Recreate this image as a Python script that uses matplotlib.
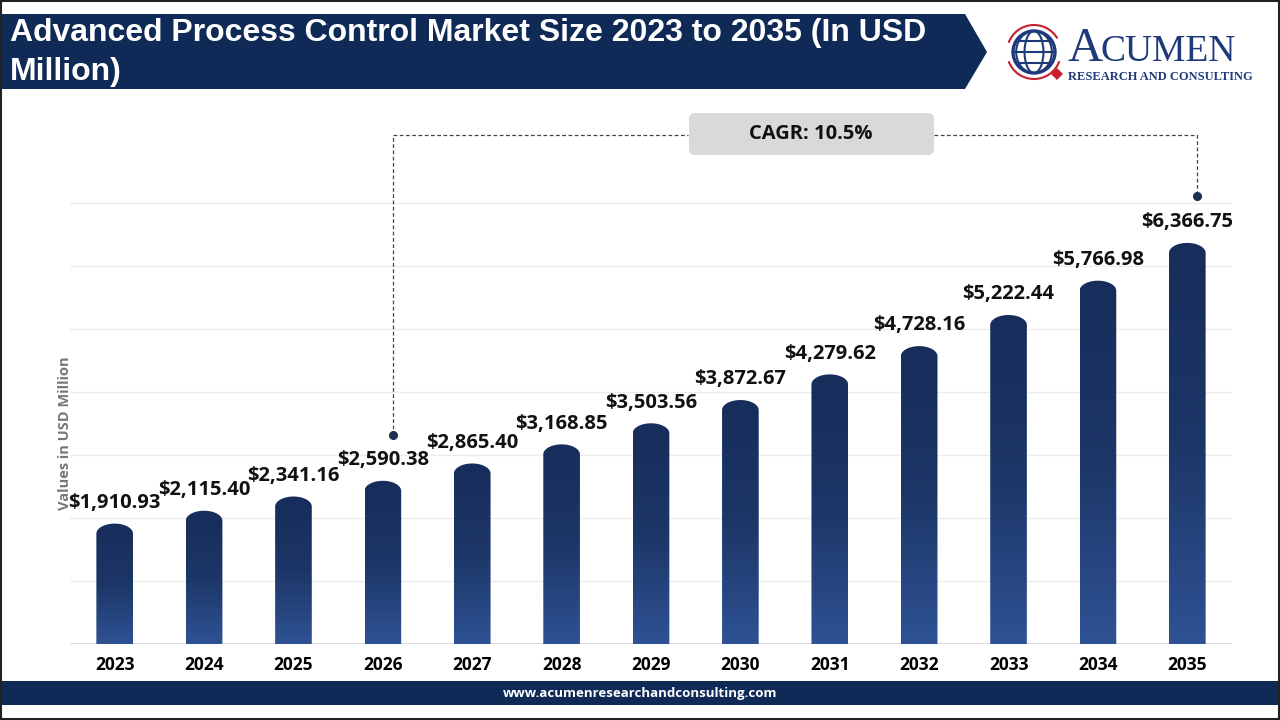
import matplotlib
matplotlib.use("Agg")
import matplotlib.pyplot as plt
import numpy as np
from matplotlib.path import Path
from matplotlib.patches import PathPatch, Polygon, FancyBboxPatch, Rectangle, Circle, Ellipse, Arc
from matplotlib.colors import LinearSegmentedColormap

years = ["2023", "2024", "2025", "2026", "2027", "2028", "2029", "2030", "2031", "2032", "2033", "2034", "2035"]
values = [1910.93, 2115.40, 2341.16, 2590.38, 2865.40, 3168.85, 3503.56, 3872.67, 4279.62, 4728.16, 5222.44, 5766.98, 6366.75]
value_labels = ["$1,910.93", "$2,115.40", "$2,341.16", "$2,590.38", "$2,865.40", "$3,168.85", "$3,503.56",
                "$3,872.67", "$4,279.62", "$4,728.16", "$5,222.44", "$5,766.98", "$6,366.75"]
grid_ticks = [0, 1000, 2000, 3000, 4000, 5000, 6000, 7000]
title_lines = ["Advanced Process Control Market Size 2023 to 2035 (In USD", "Million)"]
cagr_text = "CAGR: 10.5%"
y_label = "Values in USD Million"
footer_url = "www.acumenresearchandconsulting.com"

W, H = 1280, 720
fig = plt.figure(figsize=(12.8, 7.2), dpi=100)
fig.patch.set_facecolor("white")

def fx(px):
    return px / W

def fy(py):
    return 1 - py / H

NAVY = "#0f2a57"
LOGO = "#1f3a7a"

# ---- Background / header ----
bg = fig.add_axes([0, 0, 1, 1], zorder=0)
bg.set_xlim(0, W)
bg.set_ylim(H, 0)
bg.axis("off")
bg.add_patch(Polygon([(0, 14), (965, 14), (987, 52), (965, 89), (0, 89)], closed=True,
                     facecolor=NAVY, edgecolor="none"))
bg.text(10, 33, title_lines[0], color="white",
        fontsize=23, fontweight="bold", family="Liberation Sans", va="center", ha="left")
bg.text(10, 72, title_lines[1], color="white",
        fontsize=23, fontweight="bold", family="Liberation Sans", va="center", ha="left")

# ---- Footer ----
bg.add_patch(Rectangle((0, 681), W, 24, facecolor=NAVY, edgecolor="none"))
bg.text(640, 693, footer_url, color="white", fontsize=9.5, fontweight="bold",
        family="Open Sans", ha="center", va="center")
bg.add_patch(Rectangle((0.5, 0.5), W - 1.5, H - 1.5, facecolor="none", edgecolor="#222222", lw=1.5))

# ---- Logo ----
gx, gy, gr = 1034, 52, 21
bg.add_patch(Circle((gx, gy), gr, facecolor="white", edgecolor=LOGO, lw=2.4))
for w in [0.45, 0.85]:
    bg.add_patch(Ellipse((gx, gy), 2 * gr * w, 2 * gr, facecolor="none", edgecolor=LOGO, lw=1.5))
for dy in [-11, 0, 11]:
    half = np.sqrt(max(gr ** 2 - dy ** 2, 0))
    bg.plot([gx - half, gx + half], [gy + dy, gy + dy], color=LOGO, lw=1.5)
bg.add_patch(Arc((gx, gy), 2 * gr + 12, 2 * gr + 12, theta1=200, theta2=330, color="#c8202f", lw=1.5))
bg.add_patch(Arc((gx, gy), 2 * gr + 12, 2 * gr + 12, theta1=20, theta2=160, color="#c8202f", lw=1.5))
bg.add_patch(Polygon([(1051, 74), (1057, 68), (1063, 74), (1057, 80)], closed=True,
                     facecolor="#c8202f", edgecolor="none"))
bg.text(1068, 61, "A", color=LOGO, fontsize=35, family="Liberation Serif", va="baseline", ha="left")
bg.text(1101, 61, "CUMEN", color=LOGO, fontsize=27, family="Liberation Serif", va="baseline", ha="left")
bg.text(1068, 80, "RESEARCH AND CONSULTING", color=LOGO, fontsize=9.0, fontweight="bold",
        family="Liberation Serif", va="baseline", ha="left")

# ---- Main axes ----
base_px, top_px = 644, 100
left_px, right_px = 70, 1232
scale = 0.0630  # px per unit
ymax = (base_px - top_px) / scale
ax = fig.add_axes([fx(left_px), fy(base_px), fx(right_px - left_px), (base_px - top_px) / H], zorder=1)
ax.set_facecolor("none")
for s in ax.spines.values():
    s.set_visible(False)
ax.set_yticks(grid_ticks)
ax.set_yticklabels([])
ax.tick_params(axis="y", length=0)
ax.set_xticks(range(len(years)))
ax.set_xticklabels(years, fontsize=12.5, fontweight="bold", family="Open Sans")
ax.tick_params(axis="x", length=0, pad=9)
for t in grid_ticks[1:]:
    ax.axhline(t, color="#ececec", lw=1, zorder=0)
ax.axhline(0, color="#d4d4d4", lw=1.2, zorder=0)

bar_w = 0.41
cap_h = 160
grad = np.linspace(0, 1, 256).reshape(-1, 1)
cmap = LinearSegmentedColormap.from_list("bar", ["#2f5294", "#1c3667", "#172d5b"])
bars = ax.bar(range(len(years)), values, width=bar_w, color="none", edgecolor="none")
for i, (b, v) in enumerate(zip(bars, values)):
    x0 = b.get_x()
    x1 = x0 + b.get_width()
    xc = (x0 + x1) / 2
    hw = b.get_width() / 2
    th = np.linspace(0, np.pi, 40)
    top_pts = [(xc + hw * np.cos(t), v - cap_h + cap_h * np.sin(t)) for t in th]
    verts = [(x1, 0)] + top_pts + [(x0, 0), (x1, 0)]
    codes = [Path.MOVETO] + [Path.LINETO] * (len(verts) - 2) + [Path.CLOSEPOLY]
    patch = PathPatch(Path(verts, codes), facecolor="none", edgecolor="none", transform=ax.transData)
    ax.add_patch(patch)
    im = ax.imshow(grad, extent=[x0, x1, 0, v], origin="lower", aspect="auto", cmap=cmap,
                   vmin=0, vmax=1, zorder=2)
    im.set_clip_path(patch)
    ax.text(xc, v + 170, value_labels[i], ha="center", va="bottom", fontsize=14.5,
            fontweight="bold", family="Open Sans", color="#111111", zorder=3)
ax.set_xlim(-0.5, len(years) - 0.5)
ax.set_ylim(0, ymax)

ax.text(-0.56, 3350, y_label, rotation=90, ha="center", va="center", fontsize=10.5,
        fontweight="bold", family="Open Sans", color="#777777", clip_on=False)

# ---- CAGR connector ----
i0, i1 = 3, 12
off = 0.11
y_line = (base_px - 135) / scale
y_dot0 = (base_px - 435) / scale
y_dot1 = (base_px - 196) / scale
box_l = (688 - left_px) / (right_px - left_px) * len(years) - 0.5
box_r = (934 - left_px) / (right_px - left_px) * len(years) - 0.5
ls = (0, (3, 2))
ax.plot([i0 + off, i0 + off, box_l], [y_dot0, y_line, y_line], color="#444444", lw=0.9, ls=ls,
        clip_on=False, zorder=3)
ax.plot([box_r, i1 + off, i1 + off], [y_line, y_line, y_dot1], color="#444444", lw=0.9, ls=ls,
        clip_on=False, zorder=3)
ax.plot([i0 + off, i1 + off], [y_dot0, y_dot1], "o", color="#1f2f4f", ms=5.5, clip_on=False, zorder=4)
bg.add_patch(FancyBboxPatch((689, 113), 245, 42, boxstyle="round,pad=0,rounding_size=6",
                            facecolor="#d9d9d9", edgecolor="none", zorder=2))
fig.text(fx(811), fy(134), cagr_text, ha="center", va="center", fontsize=14.5,
         fontweight="bold", family="Open Sans", color="#111111", zorder=5)

fig.savefig("out.png", dpi=100)
